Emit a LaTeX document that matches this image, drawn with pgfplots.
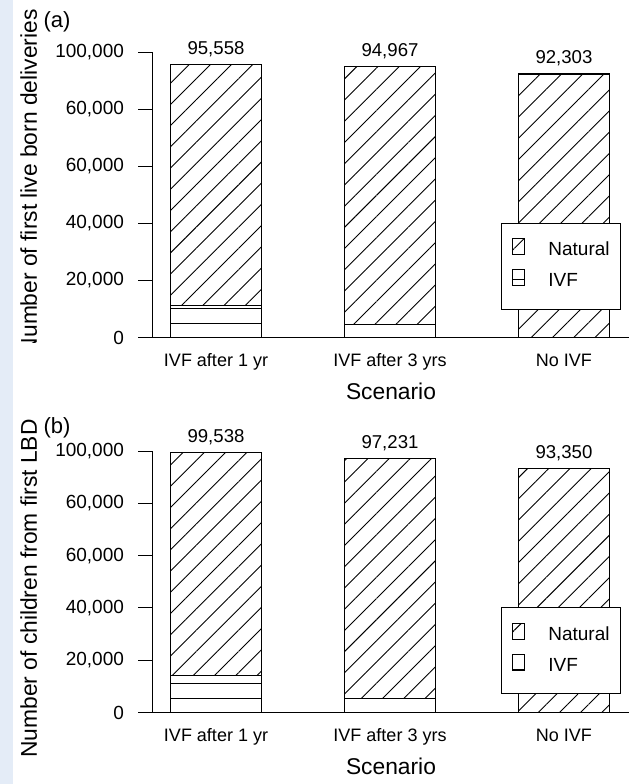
\documentclass[border=0pt]{standalone}
\usepackage{pgfplots}
\pgfplotsset{compat=1.18}
\usepackage{pgfplotstable}
\usepackage{fontspec}
\setmainfont{Liberation Sans}
\usetikzlibrary{patterns.meta}
\definecolor{stripblue}{RGB}{228,236,247}

\pgfdeclarepatternformonly{ivfA}{\pgfqpoint{-1pt}{4.65pt}}{\pgfqpoint{41pt}{6.65pt}}{\pgfqpoint{40pt}{7.25pt}}{%
  \pgfsetlinewidth{0.45pt}\pgfpathmoveto{\pgfqpoint{-1pt}{5.65pt}}\pgfpathlineto{\pgfqpoint{41pt}{5.65pt}}\pgfusepath{stroke}}
\pgfdeclarepatternformonly{ivfB}{\pgfqpoint{-1pt}{5.75pt}}{\pgfqpoint{41pt}{7.75pt}}{\pgfqpoint{40pt}{7.25pt}}{%
  \pgfsetlinewidth{0.45pt}\pgfpathmoveto{\pgfqpoint{-1pt}{6.75pt}}\pgfpathlineto{\pgfqpoint{41pt}{6.75pt}}\pgfusepath{stroke}}

\pgfplotstableread{
x ivf nat tot lab
1 11200 84358 95558 95,558
2 4700 90267 94967 94,967
3 0 92303 92303 92,303
}\dataA
\pgfplotstableread{
x ivf nat tot lab
1 14200 85338 99538 99,538
2 5500 91731 97231 97,231
3 0 93350 93350 93,350
}\dataB

\pgfplotsset{
  /pgfplots/ybar legend/.style={/pgfplots/legend image code/.code={%
    \draw[##1,/tikz/.cd,line width=0.5pt] (0pt,-2.4pt) rectangle (7pt,2.4pt);}},
  geom/.style={
    scale only axis, width=238pt, clip=false,
    xmin=0.6379, xmax=3.3736, ymin=0, ymax=100000,
  },
  panel/.style={
    geom,
    axis x line*=bottom, axis y line*=left,
    axis line style={line width=0.5pt,-},
    ybar stacked, bar width=45.5pt,
    xtick={1,2,3}, xticklabels={IVF after 1 yr, IVF after 3 yrs, No IVF},
    x tick style={draw=none},
    ytick={0,20000,40000,60000,80000,100000},
    yticklabels={0,{20,000},{40,000},{60,000},{60,000},{100,000}},
    scaled y ticks=false,
    tick align=outside, major tick length=7.5pt,
    tick style={line width=0.5pt, black},
    yticklabel style={font=\fontsize{9.5pt}{11pt}\selectfont, anchor=east, xshift=-3.5pt},
    xticklabel style={font=\fontsize{9pt}{11pt}\selectfont, anchor=base, yshift=-7pt},
    xlabel={Scenario},
    xlabel style={font=\fontsize{11.4pt}{13pt}\selectfont, anchor=base, at={(axis description cs:0.5,0)}, yshift=-31pt},
    reverse legend,
    legend cell align=left,
    legend style={draw=black, fill=white, line width=0.5pt,
      font=\fontsize{9.5pt}{11pt}\selectfont,
      inner xsep=5.5pt, inner ysep=6pt, row sep=0pt,
      nodes={inner ysep=0pt, inner xsep=0pt, text height=7pt, text depth=2pt, minimum height=15.5pt},
      /tikz/every odd column/.append style={column sep=11.5pt}},
  },
  overlay/.style={geom, hide axis, ybar, bar width=45.5pt,
    nodes near coords, point meta=explicit symbolic,
    every node near coord/.append style={font=\fontsize{9.3pt}{11pt}\selectfont, anchor=base, yshift=5pt, text=black}},
  natstyle/.style={draw=black, line width=0.6pt, pattern={Lines[angle=45,distance=7.5pt,line width=0.45pt]}, pattern color=black},
}

\begin{document}
\begin{tikzpicture}
\useasboundingbox (0,0) rectangle (314.5pt,392pt);
\fill[stripblue] (0,0) rectangle (6.5pt,392pt);

% Panel (a)
\begin{axis}[panel, at={(76.5pt,223.15pt)}, anchor=south west, height=142.85pt,
  legend style={at={(0.7305,0.4025)}, anchor=north west}]
\addplot[draw=black, line width=0.6pt, pattern=ivfA, pattern color=black]
  table[x=x,y=ivf]{\dataA};
\addlegendentry{IVF}
\addplot[natstyle] table[x=x,y=nat]{\dataA};
\addlegendentry{Natural}
\end{axis}
\begin{axis}[overlay, at={(76.5pt,223.15pt)}, anchor=south west, height=142.85pt]
\addplot[draw=none, fill=none] table[x=x,y=tot,meta=lab]{\dataA};
\end{axis}

% Panel (b)
\begin{axis}[panel, at={(76.5pt,35.75pt)}, anchor=south west, height=130.75pt,
  legend style={at={(0.7303,0.4016)}, anchor=north west}]
\addplot[draw=black, line width=0.6pt, pattern=ivfB, pattern color=black]
  table[x=x,y=ivf]{\dataB};
\addlegendentry{IVF}
\addplot[natstyle] table[x=x,y=nat]{\dataB};
\addlegendentry{Natural}
\end{axis}
\begin{axis}[overlay, at={(76.5pt,35.75pt)}, anchor=south west, height=130.75pt]
\addplot[draw=none, fill=none] table[x=x,y=tot,meta=lab]{\dataB};
\end{axis}

\node[font=\fontsize{11pt}{13pt}\selectfont] at (28.5pt,381pt) {(a)};
\node[font=\fontsize{11pt}{13pt}\selectfont] at (28.5pt,178.25pt) {(b)};

\begin{scope}
\clip (0,220.5pt) rectangle (314.5pt,392pt);
\node[font=\fontsize{11.4pt}{13pt}\selectfont, rotate=90, anchor=base, inner sep=0pt] at (18.5pt,301.1pt) {Number of first live born deliveries};
\end{scope}
\node[font=\fontsize{11.4pt}{13pt}\selectfont, rotate=90, anchor=base, inner sep=0pt] at (18.5pt,97.75pt) {Number of children from first LBD};
\end{tikzpicture}
\end{document}
